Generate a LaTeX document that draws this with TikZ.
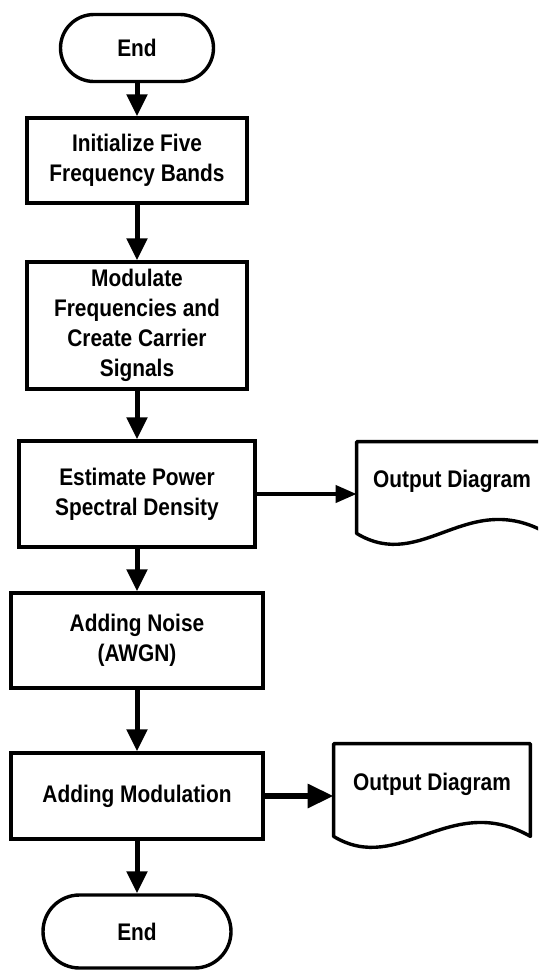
\documentclass[tikz,border=0pt]{standalone}
\usepackage{fontspec}
\setmainfont{Liberation Sans}[FakeStretch=0.87]
\usetikzlibrary{arrows.meta}

\begin{document}
\begin{tikzpicture}[x=0.5pt,y=-0.5pt,
		font=\fontsize{12pt}{15pt}\selectfont\bfseries,
		procbox/.style={draw,line width=1.7pt,align=center,inner sep=0pt},
		termbox/.style={procbox,rounded corners=#1},
		docbox/.style={align=center,inner sep=0pt,text height=8.5pt,text depth=8.5pt},
		flowarrow/.style={line width=2.5pt,-{Triangle[length=11pt,width=10pt]}}]
			\clip (0,0) rectangle (538,970);
			\node[termbox=16.75pt,minimum width=76.5pt,minimum height=33.5pt] (start) at (137,48) {End};
			\node[procbox,minimum width=110pt,minimum height=42.5pt] (init) at (137,160.5) {Initialize Five\\Frequency Bands};
			\node[procbox,minimum width=110pt,minimum height=63.5pt] (modulate) at (137,325.5) {Modulate\\Frequencies and\\Create Carrier\\Signals};
			\node[procbox,minimum width=118pt,minimum height=53pt] (estimate) at (137,494) {Estimate Power\\Spectral Density};
			\node[procbox,minimum width=126pt,minimum height=47.5pt] (noise) at (137,640.5) {Adding Noise\\(AWGN)};
			\node[procbox,minimum width=126pt,minimum height=43pt] (addmod) at (137,796) {Adding Modulation};
			\node[termbox=18.25pt,minimum width=94pt,minimum height=36.5pt] (stop) at (137,931.5) {End};
			\node[docbox,minimum width=95pt,minimum height=45.5pt] (doc1) at (452,487.5) {Output Diagram};
			\node[docbox,minimum width=98pt,minimum height=46pt] (doc2) at (432,790) {Output Diagram};
			% wavy bottom of the output documents
			\foreach \d in {doc1,doc2}
				\draw[line width=1.7pt,line join=round] (\d.south west) |- (\d.north east) -- (\d.south east)
					.. controls +(-80,-46) and +(66,40) .. (\d.south west) -- cycle;
			\draw[flowarrow] (start) -- (init);
			\draw[flowarrow] (init) -- (modulate);
			\draw[flowarrow] (modulate) -- (estimate);
			\draw[flowarrow] (estimate) -- (noise);
			\draw[flowarrow] (noise) -- (addmod);
			\draw[flowarrow] (addmod) -- (stop);
			\draw[flowarrow,line width=2pt,-{Triangle[length=10.5pt,width=8.5pt]}] (estimate.east) -- (estimate.east -| doc1.west);
			\draw[flowarrow,line width=3pt,-{Triangle[length=13pt,width=11.5pt]}] (addmod.east) -- (addmod.east -| doc2.west);
		\end{tikzpicture}
\end{document}
